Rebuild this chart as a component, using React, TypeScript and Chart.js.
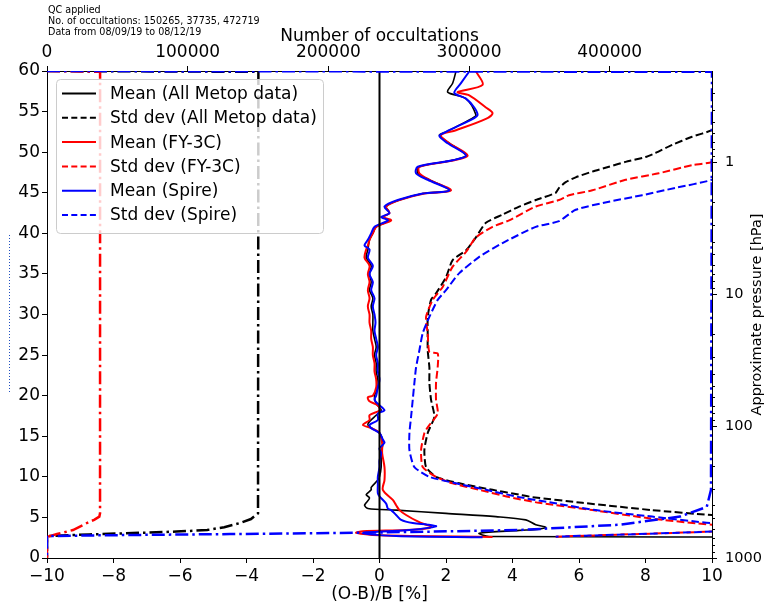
import React, { useEffect, useRef } from 'react';
import { Chart, registerables } from 'chart.js';

Chart.register(...registerables);

const FONT = "'DejaVu Sans', 'Liberation Sans', sans-serif";

// ---------- text ----------
const headerLines = [
  'QC applied',
  'No. of occultations: 150265, 37735, 472719',
  'Data from 08/09/19 to 08/12/19',
];
const bottomTitle = '(O-B)/B [%]';
const topTitle = 'Number of occultations';
const rightTitle = 'Approximate pressure [hPa]';

// ---------- ticks ----------
const xTicks = [-10, -8, -6, -4, -2, 0, 2, 4, 6, 8, 10];
const yTicks = [0, 5, 10, 15, 20, 25, 30, 35, 40, 45, 50, 55, 60];
const countTicks = [0, 100000, 200000, 300000, 400000];
const pressureMajor = [1, 10, 100, 1000];
const pressureMinor = [0.3, 0.4, 0.5, 0.6, 0.7, 0.8, 0.9, 2, 3, 4, 5, 6, 7, 8, 9, 20, 30, 40, 50, 60, 70, 80, 90, 200, 300, 400, 500, 600, 700, 800, 900];
const COUNT_MAX = 472719;
const P_TOP = 0.204;
const P_BOTTOM = 1000;

// ---------- Mean (All Metop data) ----------
const metopMeanH = [59.95, 58.5, 57.4, 56.6, 54.6, 54.2, 52.5, 52.1, 51.1, 49.6, 49.0, 48.2, 47.4, 46.6, 45.3, 44.9, 44.1, 43.3, 42.5, 42.0, 41.6, 40.8, 40.0, 39.2, 38.0, 37.0, 36.0, 35.0, 34.0, 33.0, 32.0, 31.0, 30.0, 29.0, 28.0, 27.0, 26.0, 25.0, 24.0, 23.0, 22.0, 21.0, 20.0, 19.0, 18.2, 17.4, 16.4, 15.4, 14.2, 12.9, 11.2, 10.0, 9.6, 8.7, 8.4, 7.8, 7.4, 6.8, 6.5, 6.1, 5.9, 5.5, 5.1, 4.7, 4.1, 3.8, 3.55, 3.4, 3.05, 2.65, 2.6];
const metopMeanV = [2.3, 2.2, 2.05, 2.6, 2.9, 2.8, 2.0, 1.8, 2.1, 2.6, 2.2, 1.2, 1.15, 1.5, 2.1, 1.3, 0.6, 0.2, 0.3, 0.1, 0.3, -0.1, -0.2, -0.3, -0.35, -0.4, -0.25, -0.3, -0.25, -0.3, -0.2, -0.25, -0.2, -0.2, -0.2, -0.15, -0.1, -0.15, -0.1, -0.1, -0.05, -0.05, -0.15, -0.1, 0.05, -0.15, -0.35, 0.0, 0.1, 0.05, 0.05, 0.0, -0.05, -0.25, -0.25, -0.4, -0.3, -0.4, -0.45, -0.35, 0.5, 2.0, 3.5, 4.4, 4.7, 5.0, 4.8, 4.2, 3.0, 3.3, 14];

// ---------- Std dev (All Metop data) ----------
const metopStdH = [56.0, 52.7, 51.9, 50.9, 49.9, 49.4, 48.8, 48.2, 47.6, 46.9, 46.3, 45.6, 45.0, 44.1, 43.3, 42.3, 41.3, 39.5, 37.9, 36.7, 34.6, 32.6, 31.8, 29.7, 27.7, 25.6, 23.5, 21.6, 19.5, 17.4, 15.4, 13.3, 11.2, 10.0, 9.2, 8.4, 7.8, 7.5, 6.8, 5.9, 5.3, 4.5, 3.5, 3.0, 2.6];
const metopStdV = [11.5, 10.0, 9.4, 8.8, 8.3, 8.0, 7.4, 6.9, 6.4, 5.9, 5.6, 5.4, 5.3, 4.7, 4.2, 3.7, 3.2, 2.9, 2.6, 2.2, 2.0, 1.7, 1.55, 1.45, 1.45, 1.45, 1.5, 1.5, 1.55, 1.65, 1.45, 1.35, 1.4, 1.7, 2.4, 3.4, 4.2, 4.6, 6.1, 8.2, 10.0, 14, 16, 14, 12];

// ---------- Mean (FY-3C) ----------
const fy3cMeanH = [59.95, 58.3, 57.4, 57.0, 55.5, 54.8, 54.1, 52.7, 52.1, 51.1, 49.6, 49.0, 48.2, 47.4, 46.6, 45.3, 44.9, 44.1, 43.3, 42.5, 42.0, 41.6, 40.8, 40.0, 39.2, 38.5, 38.0, 37.0, 36.0, 35.0, 34.0, 33.0, 32.0, 31.0, 30.0, 29.0, 28.0, 27.0, 26.0, 25.0, 24.0, 23.0, 22.0, 21.0, 20.0, 19.8, 19.3, 18.8, 18.2, 17.6, 17.0, 16.4, 16.0, 15.4, 14.1, 12.9, 11.2, 9.6, 8.4, 7.15, 6.5, 5.9, 5.3, 4.5, 4.1, 3.9, 3.7, 3.45, 3.3, 3.1, 2.8, 2.6];
const fy3cMeanV = [2.9, 3.1, 2.35, 2.7, 3.2, 3.4, 3.2, 2.3, 1.85, 2.1, 2.65, 2.25, 1.2, 1.2, 1.5, 2.15, 1.35, 0.6, 0.2, 0.3, 0.1, 0.35, -0.1, -0.2, -0.3, -0.35, -0.4, -0.45, -0.3, -0.35, -0.3, -0.35, -0.3, -0.35, -0.3, -0.3, -0.25, -0.25, -0.2, -0.2, -0.15, -0.15, -0.1, -0.1, -0.2, -0.35, -0.3, -0.05, 0.0, -0.3, -0.3, -0.5, -0.25, 0.0, 0.08, 0.08, 0.15, 0.15, 0.1, 0.4, 0.5, 0.6, 0.8, 1.15, 1.4, 1.55, 1.5, 0.8, -0.5, -0.7, 0.0, 3.4];

// ---------- Std dev (FY-3C) ----------
const fy3cStdH = [52.0, 48.8, 48.4, 47.4, 46.6, 45.3, 44.7, 44.1, 43.3, 41.6, 40.8, 39.5, 37.7, 35.9, 33.4, 31.8, 29.7, 27.7, 25.4, 25.2, 23.5, 21.6, 19.5, 17.8, 16.1, 15.4, 13.3, 11.2, 10.0, 9.2, 8.4, 7.5, 6.8, 5.9, 4.9, 4.1, 3.7, 3.25, 2.63];
const fy3cStdV = [11.5, 10.0, 9.4, 8.4, 7.4, 6.4, 5.7, 5.4, 4.7, 3.9, 3.4, 2.9, 2.6, 2.2, 1.9, 1.6, 1.4, 1.45, 1.5, 1.75, 1.75, 1.7, 1.7, 1.75, 1.45, 1.35, 1.25, 1.3, 1.7, 2.2, 3.0, 3.9, 4.8, 6.4, 8.1, 10.0, 13, 10.0, 5.3];

// ---------- Mean (Spire) ----------
const spireMeanH = [59.95, 58.5, 57.3, 56.6, 55.5, 54.6, 54.2, 52.5, 52.0, 51.1, 49.6, 49.0, 48.2, 47.4, 46.6, 45.3, 44.9, 44.1, 43.3, 42.5, 42.0, 41.6, 40.8, 40.0, 39.2, 38.5, 38.0, 37.0, 36.0, 35.0, 34.0, 33.0, 32.0, 31.0, 30.0, 29.0, 28.0, 27.0, 26.0, 25.0, 24.0, 23.0, 22.0, 21.0, 20.0, 19.5, 19.0, 18.2, 17.8, 17.0, 16.4, 16.0, 15.4, 14.6, 14.2, 13.5, 12.9, 12.0, 11.2, 10.0, 9.0, 8.0, 7.6, 6.7, 6.1, 5.9, 5.3, 4.7, 4.3, 4.1, 3.9, 3.45, 3.25, 3.05, 2.7, 2.55];
const spireMeanV = [2.7, 2.45, 2.25, 2.6, 2.85, 2.95, 2.85, 2.0, 1.8, 2.05, 2.6, 2.2, 1.15, 1.1, 1.45, 2.1, 1.3, 0.55, 0.15, 0.3, 0.05, 0.25, -0.15, -0.25, -0.35, -0.45, -0.3, -0.35, -0.2, -0.3, -0.2, -0.25, -0.15, -0.2, -0.15, -0.12, -0.15, -0.1, -0.05, -0.1, -0.05, -0.05, 0.0, -0.05, -0.1, -0.15, -0.05, 0.15, -0.05, -0.05, -0.3, -0.25, 0.0, 0.1, 0.15, 0.0, 0.05, 0.0, 0.0, -0.05, -0.05, -0.05, 0.0, 0.2, 0.25, 0.35, 0.5, 0.65, 1.0, 1.45, 1.7, 0.9, 0.0, -0.5, 0.5, 3.1];

// ---------- Std dev (Spire) ----------
const spireStdH = [50.0, 46.6, 45.6, 44.7, 43.9, 42.9, 41.5, 40.8, 38.8, 37.1, 35.1, 33.0, 31.8, 29.7, 27.7, 25.6, 23.5, 21.6, 19.5, 17.4, 15.4, 13.3, 11.2, 10.0, 9.2, 8.4, 7.5, 6.8, 5.9, 5.1, 4.3, 3.8, 3.25, 2.63];
const spireStdV = [12, 10.0, 8.9, 7.9, 6.9, 5.9, 5.4, 4.7, 3.7, 3.0, 2.4, 2.0, 1.75, 1.5, 1.3, 1.2, 1.1, 1.05, 1.0, 0.95, 0.9, 0.9, 1.05, 1.5, 2.3, 3.2, 4.2, 5.2, 6.5, 8.2, 10.0, 13, 10.0, 5.3];

// ---------- Number of occultations ----------
const metopCountH = [60, 59.9, 5.5, 4.8, 4.3, 3.8, 3.45, 3.25, 3.1, 2.9, 2.7, 0];
const metopCountV = [0, 150265, 150000, 145000, 137000, 126000, 113800, 92000, 66000, 30000, 0, 0];
const fy3cCountH = [60, 59.9, 5.5, 5.1, 4.7, 4.5, 3.45, 2.95, 2.6, 0];
const fy3cCountV = [0, 37735, 37700, 37200, 33500, 30600, 18500, 7100, 0, 0];
const spireCountH = [60, 59.9, 8.4, 6.3, 5.1, 4.1, 3.45, 3.3, 3.1, 2.95, 2.8, 2.7, 0];
const spireCountV = [0, 472719, 472000, 469000, 450000, 407000, 336000, 290000, 220000, 130000, 40000, 0, 0];

// ---------- zero line ----------
const zeroLineH = [0, 60];
const zeroLineV = [0, 0];

const legendItems = [
  { label: 'Mean (All Metop data)', color: '#000000', dash: [] as number[] },
  { label: 'Std dev (All Metop data)', color: '#000000', dash: [6, 3.3] },
  { label: 'Mean (FY-3C)', color: '#ff0000', dash: [] as number[] },
  { label: 'Std dev (FY-3C)', color: '#ff0000', dash: [6, 3.3] },
  { label: 'Mean (Spire)', color: '#0000ff', dash: [] as number[] },
  { label: 'Std dev (Spire)', color: '#0000ff', dash: [6, 3.3] },
];

const pts = (h: number[], v: number[]) => h.map((y, i) => ({ x: v[i], y }));

const DASH = [7.7, 3.3];
const DASHDOT = [13, 4, 2.5, 4];

const overlayPlugin = {
  id: 'overlay',
  afterDraw(chart: any) {
    const ctx: CanvasRenderingContext2D = chart.ctx;
    const area = chart.chartArea;
    ctx.save();

    // header
    ctx.fillStyle = '#000';
    ctx.font = `9.6px ${FONT}`;
    ctx.textAlign = 'left';
    ctx.textBaseline = 'middle';
    headerLines.forEach((t, i) => ctx.fillText(t, 48, 10 + i * 11));

    // right axis title (bottom-to-top)
    ctx.save();
    ctx.translate(757, (area.top + area.bottom) / 2);
    ctx.rotate(-Math.PI / 2);
    ctx.font = `14.5px ${FONT}`;
    ctx.textAlign = 'center';
    ctx.textBaseline = 'middle';
    ctx.fillText(rightTitle, 0, 0);
    ctx.restore();

    // pressure ticks (major + minor)
    const y2 = chart.scales.y2;
    ctx.strokeStyle = '#000';
    ctx.lineWidth = 1;
    ctx.setLineDash([]);
    const drawTick = (v: number, len: number) => {
      const py = Math.round(y2.getPixelForValue(v)) + 0.5;
      ctx.beginPath();
      ctx.moveTo(area.right, py);
      ctx.lineTo(area.right + len, py);
      ctx.stroke();
    };
    pressureMajor.forEach((v) => drawTick(v, 5));
    pressureMinor.forEach((v) => drawTick(v, 3));

    // legend
    const lx = 56, ly = 79, lw = 267, lh = 154;
    ctx.beginPath();
    if ((ctx as any).roundRect) (ctx as any).roundRect(lx + 0.5, ly + 0.5, lw, lh, 4);
    else ctx.rect(lx + 0.5, ly + 0.5, lw, lh);
    ctx.fillStyle = 'rgba(255,255,255,0.8)';
    ctx.fill();
    ctx.strokeStyle = '#cccccc';
    ctx.lineWidth = 1;
    ctx.stroke();
    ctx.font = `17px ${FONT}`;
    ctx.textAlign = 'left';
    ctx.textBaseline = 'middle';
    legendItems.forEach((it, i) => {
      const ry = 93.5 + i * 24.3;
      ctx.beginPath();
      ctx.setLineDash(it.dash);
      ctx.strokeStyle = it.color;
      ctx.lineWidth = 2;
      ctx.moveTo(62, ry);
      ctx.lineTo(96, ry);
      ctx.stroke();
      ctx.setLineDash([]);
      ctx.fillStyle = '#000';
      ctx.fillText(it.label, 110, ry + 1);
    });

    // clipped remnant of a left label
    ctx.beginPath();
    ctx.setLineDash([1, 2]);
    ctx.strokeStyle = '#2050c0';
    ctx.lineWidth = 1;
    ctx.moveTo(9.5, 235);
    ctx.lineTo(9.5, 393);
    ctx.stroke();

    ctx.restore();
  },
};

const axisCommon = {
  grid: { drawOnChartArea: false, drawTicks: true, tickLength: 5, color: '#000', lineWidth: 1 },
  border: { display: true, color: '#000', width: 1 },
};

export default function App() {
  const canvasRef = useRef<HTMLCanvasElement | null>(null);

  useEffect(() => {
    document.body.style.margin = '0';
    const canvas = canvasRef.current;
    if (!canvas) return;
    Chart.defaults.font.family = FONT;
    Chart.defaults.font.size = 17;
    Chart.defaults.color = '#000';

    const line = (label: string, data: any[], color: string, dash: number[], width: number, xAxisID: string, tension = 0) => ({
      label,
      data,
      showLine: true,
      borderColor: color,
      backgroundColor: color,
      borderWidth: width,
      borderDash: dash,
      pointRadius: 0,
      pointHoverRadius: 0,
      fill: false,
      tension,
      xAxisID,
      yAxisID: 'y',
    });

    const chart = new Chart(canvas, {
      type: 'scatter',
      data: {
        datasets: [
          line('Number (Spire)', pts(spireCountH, spireCountV), '#0000ff', DASHDOT, 2.5, 'x2'),
          line('Number (FY-3C)', pts(fy3cCountH, fy3cCountV), '#ff0000', DASHDOT, 2.5, 'x2'),
          line('Number (All Metop data)', pts(metopCountH, metopCountV), '#000000', DASHDOT, 2.5, 'x2'),
          line('zero', pts(zeroLineH, zeroLineV), '#000000', [], 2, 'x'),
          line('Std dev (Spire)', pts(spireStdH, spireStdV), '#0000ff', DASH, 2, 'x', 0.2),
          line('Mean (Spire)', pts(spireMeanH, spireMeanV), '#0000ff', [], 2, 'x', 0.3),
          line('Std dev (FY-3C)', pts(fy3cStdH, fy3cStdV), '#ff0000', DASH, 2, 'x', 0.2),
          line('Mean (FY-3C)', pts(fy3cMeanH, fy3cMeanV), '#ff0000', [], 2, 'x', 0.3),
          line('Std dev (All Metop data)', pts(metopStdH, metopStdV), '#000000', DASH, 2, 'x', 0.2),
          line('Mean (All Metop data)', pts(metopMeanH, metopMeanV), '#000000', [], 1.6, 'x', 0.3),
        ] as any,
      },
      options: {
        animation: false,
        responsive: false,
        maintainAspectRatio: false,
        layout: { padding: 0 },
        events: [],
        plugins: {
          legend: { display: false },
          tooltip: { enabled: false },
          title: { display: false },
        },
        scales: {
          x: {
            type: 'linear',
            position: 'bottom',
            min: -10,
            max: 10,
            ...axisCommon,
            ticks: {
              autoSkip: false,
              maxRotation: 0,
              minRotation: 0,
              padding: 3,
              callback: (v: any) => (Number(v) < 0 ? '\u2212' + Math.abs(Number(v)) : String(v)),
            },
            title: { display: true, text: bottomTitle, padding: { top: 0, bottom: 2 } },
            afterBuildTicks: (s: any) => { s.ticks = xTicks.map((value) => ({ value })); },
            afterFit: (s: any) => { s.height = 49; },
          },
          x2: {
            type: 'linear',
            position: 'top',
            min: 0,
            max: COUNT_MAX,
            ...axisCommon,
            ticks: { autoSkip: false, maxRotation: 0, minRotation: 0, padding: 3, callback: (v: any) => String(v) },
            title: { display: true, text: topTitle, padding: { top: 26, bottom: 0 } },
            afterBuildTicks: (s: any) => { s.ticks = countTicks.map((value) => ({ value })); },
            afterFit: (s: any) => { s.height = 71; },
          },
          y: {
            type: 'linear',
            position: 'left',
            min: 0,
            max: 60,
            ...axisCommon,
            ticks: { autoSkip: false, padding: 2, callback: (v: any) => String(v) },
            afterBuildTicks: (s: any) => { s.ticks = yTicks.map((value) => ({ value })); },
            afterFit: (s: any) => { s.width = 47; },
          },
          y2: {
            type: 'logarithmic',
            position: 'right',
            min: P_TOP,
            max: P_BOTTOM,
            reverse: true,
            grid: { drawOnChartArea: false, drawTicks: true, tickLength: 5, color: 'rgba(0,0,0,0)' },
            border: { display: true, color: '#000', width: 1 },
            ticks: {
              autoSkip: false,
              padding: 8,
              font: { size: 14.5 },
              callback: (v: any) => (pressureMajor.includes(Number(v)) ? String(v) : ''),
            },
            afterBuildTicks: (s: any) => { s.ticks = pressureMajor.map((value) => ({ value })); },
            afterFit: (s: any) => { s.width = 53; },
          },
        },
      } as any,
      plugins: [overlayPlugin],
    });

    return () => chart.destroy();
  }, []);

  return (
    <div style={{ position: 'absolute', left: 0, top: 0, width: 765, height: 607, background: '#fff' }}>
      <canvas ref={canvasRef} width={765} height={607} style={{ display: 'block' }} />
    </div>
  );
}
